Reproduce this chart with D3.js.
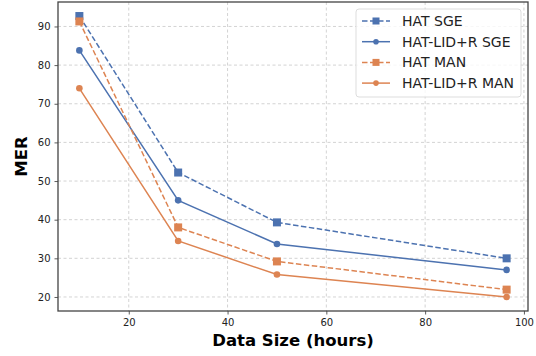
<!DOCTYPE html>
<html>
<head>
<meta charset="utf-8">
<script src="https://cdn.jsdelivr.net/npm/d3@7"></script>
<style>
  body { margin: 0; background: #fff; }
  text { font-family: "DejaVu Sans", sans-serif; }
</style>
</head>
<body>
<svg id="chart" width="536" height="356"></svg>
<script>
// dữ liệu
const dataSize = [10, 30, 50, 96.5];
const hatSge = [92.7, 52.2, 39.3, 30.0];
const lidSge = [83.8, 45.0, 33.7, 27.0];
const hatMan = [91.3, 38.0, 29.2, 21.9];
const lidMan = [74.0, 34.5, 25.8, 20.0];
const xTicks = [20, 40, 60, 80, 100];
const yTicks = [20, 30, 40, 50, 60, 70, 80, 90];

const series = [
  {name: "HAT SGE", values: hatSge, color: "#4C72B0", dashed: true, marker: "square"},
  {name: "HAT-LID+R SGE", values: lidSge, color: "#4C72B0", dashed: false, marker: "circle"},
  {name: "HAT MAN", values: hatMan, color: "#DD8452", dashed: true, marker: "square"},
  {name: "HAT-LID+R MAN", values: lidMan, color: "#DD8452", dashed: false, marker: "circle"}
];

const svg = d3.select("#chart"),
      margin = {top: 2, right: 8, bottom: 45, left: 58},
      width = 536 - margin.left - margin.right,
      height = 356 - margin.top - margin.bottom;

const g = svg.append("g").attr("transform", `translate(${margin.left},${margin.top})`);

const x = d3.scaleLinear().domain([5.675, 100.825]).range([0, width]);
const y = d3.scaleLinear().domain([16.37, 96.33]).range([height, 0]);

// lưới
g.append("g").selectAll("line")
  .data(xTicks).enter().append("line")
    .attr("x1", d => x(d)).attr("x2", d => x(d))
    .attr("y1", 0).attr("y2", height)
    .attr("stroke", "#c8c8c8").attr("stroke-width", 0.8)
    .attr("stroke-dasharray", "3,2.5");
g.append("g").selectAll("line")
  .data(yTicks).enter().append("line")
    .attr("y1", d => y(d)).attr("y2", d => y(d))
    .attr("x1", 0).attr("x2", width)
    .attr("stroke", "#c8c8c8").attr("stroke-width", 0.8)
    .attr("stroke-dasharray", "3,2.5");

// trục
const xAxis = g.append("g")
  .attr("transform", `translate(0,${height})`)
  .call(d3.axisBottom(x).tickValues(xTicks).tickSize(3.5).tickPadding(4).tickSizeOuter(0));
const yAxis = g.append("g")
  .call(d3.axisLeft(y).tickValues(yTicks).tickSize(3.5).tickPadding(4).tickSizeOuter(0));
[xAxis, yAxis].forEach(a => {
  a.select(".domain").remove();
  a.selectAll("line").attr("stroke", "#333").attr("stroke-width", 0.8);
  a.selectAll("text").style("font-size", "10px").attr("fill", "#222")
    .style("font-family", "DejaVu Sans, sans-serif");
});

// đường
const line = d3.line().x((d, i) => x(dataSize[i])).y(d => y(d));
series.forEach(s => {
  g.append("path")
    .datum(s.values)
    .attr("fill", "none")
    .attr("stroke", s.color)
    .attr("stroke-width", 1.5)
    .attr("stroke-dasharray", s.dashed ? "5.5,2.5" : null)
    .attr("d", line);
  s.values.forEach((v, i) => {
    if (s.marker === "square") {
      g.append("rect")
        .attr("x", x(dataSize[i]) - 4).attr("y", y(v) - 4)
        .attr("width", 8).attr("height", 8).attr("fill", s.color);
    } else {
      g.append("circle")
        .attr("cx", x(dataSize[i])).attr("cy", y(v)).attr("r", 3.3)
        .attr("fill", s.color);
    }
  });
});

// khung
g.append("rect")
  .attr("width", width).attr("height", height)
  .attr("fill", "none").attr("stroke", "#444").attr("stroke-width", 1.3);

// chú thích
const lg = svg.append("g").attr("transform", "translate(356,9)");
lg.append("rect")
  .attr("width", 165).attr("height", 88).attr("rx", 3)
  .attr("fill", "#fff").attr("fill-opacity", 0.8)
  .attr("stroke", "#ddd").attr("stroke-width", 1);
series.forEach((s, i) => {
  const yy = 12 + i * 20.7;
  lg.append("line")
    .attr("x1", 6).attr("x2", 34).attr("y1", yy).attr("y2", yy)
    .attr("stroke", s.color).attr("stroke-width", 1.5)
    .attr("stroke-dasharray", s.dashed ? "5.5,2.5" : null);
  if (s.marker === "square") {
    lg.append("rect").attr("x", 16.5).attr("y", yy - 3.5).attr("width", 7).attr("height", 7).attr("fill", s.color);
  } else {
    lg.append("circle").attr("cx", 20).attr("cy", yy).attr("r", 2.8).attr("fill", s.color);
  }
  lg.append("text")
    .attr("x", 46).attr("y", yy + 5)
    .style("font-size", "14px").attr("fill", "#222")
    .text(s.name);
});

// nhãn trục
svg.append("text")
  .attr("x", margin.left + width / 2).attr("y", 346)
  .attr("text-anchor", "middle")
  .style("font-size", "16.5px").style("font-weight", "bold")
  .text("Data Size (hours)");
svg.append("text")
  .attr("transform", `translate(27,${margin.top + height / 2}) rotate(-90)`)
  .attr("text-anchor", "middle")
  .style("font-size", "16.5px").style("font-weight", "bold")
  .text("MER");
</script>
</body>
</html>
